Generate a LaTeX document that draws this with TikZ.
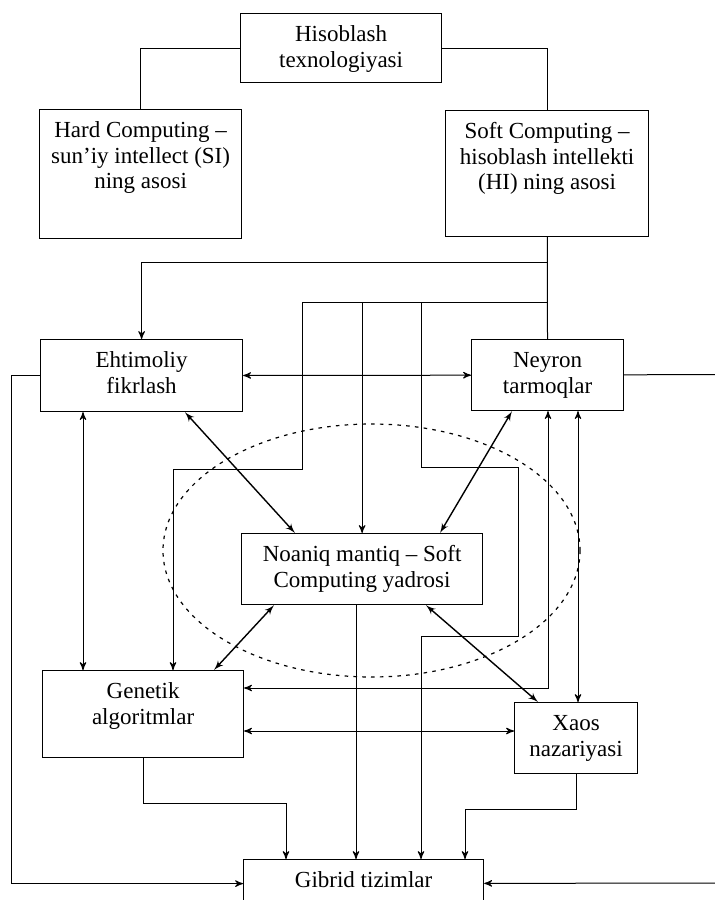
\documentclass[tikz,border=0pt]{standalone}
\usepackage{fontspec}
\setmainfont{Liberation Serif}
\usetikzlibrary{arrows}

\begin{document}
\begin{tikzpicture}[x=0.5pt,y=-0.5pt,>=stealth',line width=0.5pt,
        main node/.style 2 args={draw,line width=0.6pt,inner sep=0pt,anchor=north west,
          font=\fontsize{11.5}{12.8}\selectfont,
          execute at begin node={\begin{minipage}[c][#2][t]{#1}\centering\rule{0pt}{14pt}},
          execute at end node={\end{minipage}}},
        diag edge/.style={<->,>=latex',line width=0.7pt},
        core/.style={dash pattern=on 1.8pt off 2.6pt,line width=0.6pt}]

      \useasboundingbox (0,0) rectangle (715,900);

      \node[main node={100.5pt}{34.5pt}] (0) at (240,13) {Hisoblash\\texnologiyasi};
      \node[main node={101pt}{64.5pt}] (1) at (39,109) {Hard Computing –\\sun'iy intellect (SI)\\ning asosi};
      \node[main node={101.5pt}{63pt}] (2) at (445,110) {Soft Computing –\\hisoblash intellekti\\(HI) ning asosi};
      \node[main node={101pt}{36pt}] (3) at (40,339) {Ehtimoliy\\fikrlash};
      \node[main node={76pt}{35.5pt}] (4) at (471,339) {Neyron\\tarmoqlar};
      \node[main node={120.5pt}{35.5pt}] (5) at (241,533) {Noaniq mantiq – Soft\\Computing yadrosi};
      \node[main node={100.5pt}{43.5pt}] (6) at (42,670) {Genetik\\algoritmlar};
      \node[main node={61.5pt}{35.5pt}] (7) at (514,702) {Xaos\\nazariyasi};
      \node[main node={120pt}{24pt}] (8) at (243,859) {Gibrid tizimlar};

      \coordinate (j1) at (546.5,262);
      \coordinate (j2) at (546.5,302);
      \coordinate (r1) at (715,374.5);
      \coordinate (r2) at (715,883);

      % top of the tree
      \draw (0) -| (1);
      \draw (0) -| (2);
      \draw (2) -- (4);
      \draw[->] (j1) -| (3);
      \draw[->] (j2) -| (302,469) -| (173,0 |- 6.north);
      \draw[->] (j2 -| 5) -- (5);
      \draw[->] (421,0 |- j2) -- (421,467) -| (518,636) -| (421,0 |- 8.north);

      % links between the methods
      \draw[<->] (3) -- (4);
      \draw (4) -- (r1);
      \draw[->] (3) -| (11,0 |- 8.west) -- (8);
      \draw[<->] (83,0 |- 3.south) -- (83,0 |- 6.north);
      \draw[<->] (548,0 |- 4.south) |- (6.east |- 0,688);
      \draw[<->] (578,0 |- 4.south) -- (578,0 |- 7.north);
      \draw[<->] (6.east |- 0,731) -- (7.west |- 0,731);
      \draw[diag edge] (185,0 |- 3.south) -- (295,0 |- 5.north);
      \draw[diag edge] (512,0 |- 4.south) -- (440,0 |- 5.north);
      \draw[diag edge] (274,0 |- 5.south) -- (214,0 |- 6.north);
      \draw[diag edge] (426,0 |- 5.south) -- (538,0 |- 7.north);

      % into the hybrid systems
      \draw[->] (356,0 |- 5.south) -- (356,0 |- 8.north);
      \draw[->] (6) |- (286,803) -- (286,0 |- 8.north);
      \draw[->] (7) |- (465,809) -- (465,0 |- 8.north);
      \draw[->] (r2) -- (8);

      \draw[core] (371.5,550.5) ellipse [x radius=208.5, y radius=126.5];
    \end{tikzpicture}
\end{document}
